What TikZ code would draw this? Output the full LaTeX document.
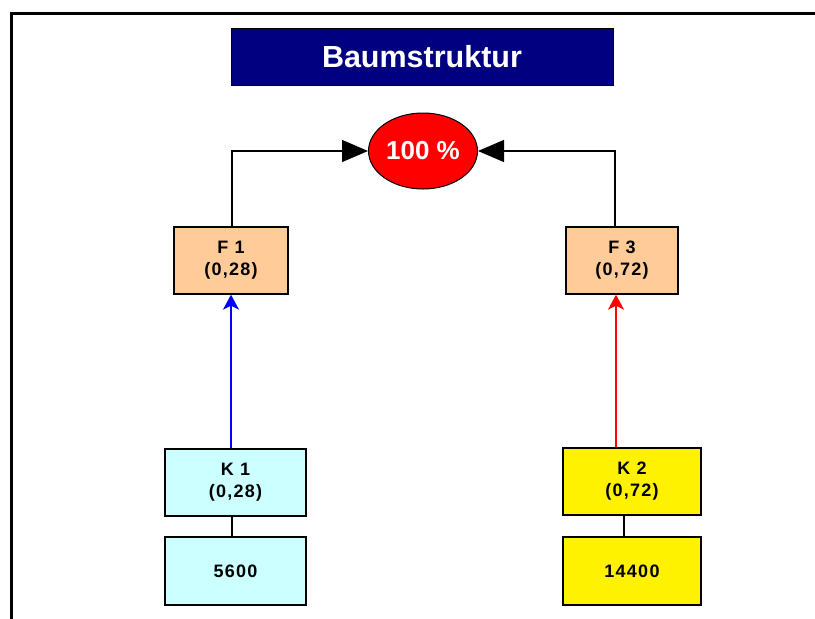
\documentclass[tikz,border=0pt]{standalone}
\usepackage{fontspec}
\setmainfont{Liberation Sans}
\usetikzlibrary{shapes.geometric,arrows.meta,calc}
\definecolor{peach}{HTML}{FFCC99}
\definecolor{paleCyan}{HTML}{CCFFFF}
\definecolor{navyBox}{HTML}{000080}
\newfontfamily\spacedfont[LetterSpace=7]{Liberation Sans}
\tikzset{
  box/.style={draw=black, line width=1.3pt, rectangle, minimum height=67pt,
              align=center, inner sep=0pt, font=\spacedfont\bfseries\fontsize{18pt}{22pt}\selectfont},
  fbox/.style={box, fill=peach},
  kbox/.style={box, fill=paleCyan},
  ybox/.style={box, fill=yellow},
  link/.style={line width=1.2pt},
  bigtip/.style={-{Triangle[length=26pt,width=22pt]}},
  smalltip/.style={-{Stealth[length=15pt,width=16pt,inset=4pt]}}
}
\begin{document}
\begin{tikzpicture}[x=1pt,y=-1pt]
  \clip (0,0) rectangle (815,619);
  \fill[white] (0,0) rectangle (815,619);
  % outer frame, running past the right and lower edges
  \draw[line width=3pt] (11,13) rectangle (845,650);

  % heading
  \node[draw=black, line width=1pt, fill=navyBox, minimum width=382pt, minimum height=57pt,
        text=white, font=\bfseries\fontsize{30.5pt}{34pt}\selectfont] (title) at (422,57) {Baumstruktur};

  % root
  \node[ellipse, draw=black, line width=1pt, fill=red, minimum width=109pt, minimum height=76pt,
        inner sep=0pt, text=white, font=\bfseries\fontsize{26pt}{30pt}\selectfont] (root) at (423,151) {100 \%};

  % first level
  \node[fbox, minimum width=114pt] (F1) at (231,260.5) {F 1\\(0,28)};
  \node[fbox, minimum width=112pt] (F3) at (622,260.5) {F 3\\(0,72)};

  % cost nodes
  \node[kbox, minimum width=141pt] (K1) at (235.5,482.5) {K 1\\(0,28)};
  \node[ybox, minimum width=138pt] (K2) at (632,481.5) {K 2\\(0,72)};

  % values
  \node[kbox, minimum width=141pt, minimum height=68pt] (V1) at (235.5,571) {5600};
  \node[ybox, minimum width=138pt, minimum height=68pt] (V2) at (632,571) {14400};

  % helper coordinates for the off-centre connectors
  \coordinate (f1top) at ($(F1.north)+(1,0)$);
  \coordinate (f3top) at ($(F3.north)+(-7,0)$);
  \coordinate (f3bot) at ($(F3.south)+(-6,0)$);
  \coordinate (k1bot) at ($(K1.south)+(-3.5,0)$);
  \coordinate (k2bot) at ($(K2.south)+(-8,0)$);

  % links to the root
  \draw[link, bigtip] (f1top) |- (root.west);
  \draw[link, bigtip] (f3top) |- (root.east);

  % links from cost nodes
  \draw[link, line width=1.4pt, draw=blue, fill=blue, smalltip] (K1.north -| F1.south) -- (F1.south);
  \draw[link, line width=1.4pt, draw=red, fill=red, smalltip] (f3bot |- K2.north) -- (f3bot);

  % links to values
  \draw[link, line width=1.3pt] (k1bot) -- (k1bot |- V1.north);
  \draw[link, line width=1.3pt] (k2bot) -- (k2bot |- V2.north);
\end{tikzpicture}
\end{document}
